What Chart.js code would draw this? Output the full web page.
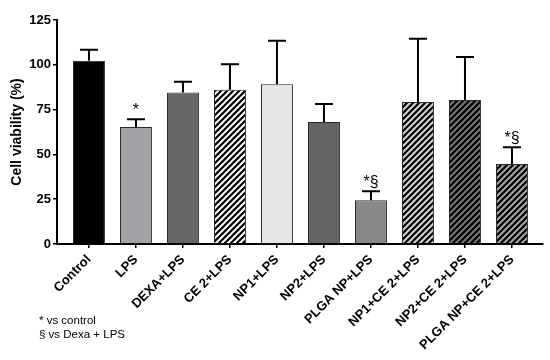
<!DOCTYPE html>
<html>
<head>
<meta charset="utf-8">
<script src="https://cdn.jsdelivr.net/npm/chart.js@4/dist/chart.umd.min.js"></script>
<style>
  html, body { margin: 0; padding: 0; background: #fff; }
  #wrap { width: 550px; height: 360px; }
</style>
</head>
<body>
<div id="wrap"><canvas id="viabilityChart" width="550" height="360"></canvas></div>
<script>
// data
const groups = ['Control', 'LPS', 'DEXA+LPS', 'CE 2+LPS', 'NP1+LPS', 'NP2+LPS',
  'PLGA NP+LPS', 'NP1+CE 2+LPS', 'NP2+CE 2+LPS', 'PLGA NP+CE 2+LPS'];
const viability = [102.3, 65.3, 84.6, 86.1, 89.2, 68.1, 24.4, 79.2, 80.4, 44.6];
const errUpper = [6.1, 4.3, 6.0, 14.2, 24.2, 10.0, 5.0, 35.4, 24.0, 9.4];
const marks = ['', '*', '', '', '', '', '*§', '', '', '*§'];
const yTicks = [0, 25, 50, 75, 100, 125];
const notes = ['* vs control', '§ vs Dexa + LPS'];

const FONT = '"Liberation Sans", Arial, sans-serif';

function stripes(bg) {
  const c = document.createElement('canvas');
  c.width = 6; c.height = 6;
  const g = c.getContext('2d');
  g.fillStyle = bg;
  g.fillRect(0, 0, 6, 6);
  g.strokeStyle = '#000';
  g.lineWidth = 2.2;
  g.beginPath();
  g.moveTo(-1, 7); g.lineTo(7, -1);
  g.moveTo(-4, 4); g.lineTo(4, -4);
  g.moveTo(2, 10); g.lineTo(10, 2);
  g.stroke();
  return g.createPattern(c, 'repeat');
}

const ctx = document.getElementById('viabilityChart').getContext('2d');

const fills = ['#000000', '#a2a2a6', '#666666', stripes('#ffffff'), '#e6e6e6',
  '#646464', '#888888', stripes('#d4d4d4'), stripes('#777777'), stripes('#a6a6a6')];

const errorBars = {
  id: 'errorBars',
  afterDatasetsDraw(chart) {
    const c = chart.ctx, xs = chart.scales.x, ys = chart.scales.y;
    c.save();
    c.strokeStyle = '#000';
    c.lineWidth = 2;
    viability.forEach((v, i) => {
      const x = xs.getPixelForValue(i);
      const y0 = ys.getPixelForValue(v);
      const y1 = ys.getPixelForValue(v + errUpper[i]);
      c.beginPath();
      c.moveTo(x, y0); c.lineTo(x, y1);
      c.moveTo(x - 9, y1); c.lineTo(x + 9, y1);
      c.stroke();
      if (marks[i]) {
        c.fillStyle = '#000';
        c.font = '16px ' + FONT;
        c.textAlign = 'center';
        c.textBaseline = 'bottom';
        c.fillText(marks[i], x, y1 - 1);
      }
    });
    c.font = '11.5px ' + FONT;
    c.textAlign = 'left';
    c.textBaseline = 'middle';
    c.fillStyle = '#000';
    c.fillText(notes[0], 39, 321);
    c.fillText(notes[1], 39, 335);
    c.restore();
  }
};

new Chart(ctx, {
  type: 'bar',
  data: {
    datasets: [{
      data: viability.map((v, i) => ({ x: i, y: v })),
      backgroundColor: fills,
      borderColor: '#2a2a2a',
      borderWidth: 1,
      barPercentage: 0.68,
      categoryPercentage: 1
    }]
  },
  options: {
    responsive: false,
    animation: false,
    layout: { padding: { top: 20, right: 7, left: 0, bottom: 0 } },
    plugins: { legend: { display: false }, tooltip: { enabled: false } },
    scales: {
      x: {
        type: 'linear',
        offset: false,
        min: -0.68,
        max: 9.66,
        afterBuildTicks: s => { s.ticks = groups.map((_, i) => ({ value: i })); },
        afterFit: s => { s.height = 116; },
        border: { color: '#000', width: 2 },
        grid: { drawOnChartArea: false, offset: false, color: '#000', tickLength: 4, lineWidth: 1.5 },
        ticks: {
          autoSkip: false,
          minRotation: 45,
          maxRotation: 45,
          padding: 4,
          color: '#000',
          font: { family: FONT, size: 13, weight: 'bold' },
          callback: v => groups[v]
        }
      },
      y: {
        min: 0,
        max: 125,
        afterBuildTicks: s => { s.ticks = yTicks.map(v => ({ value: v })); },
        afterFit: s => { s.width = 57; },
        border: { color: '#000', width: 2 },
        grid: { drawOnChartArea: false, color: '#000', tickLength: 4, lineWidth: 1.5 },
        title: {
          display: true,
          text: 'Cell viability (%)',
          color: '#000',
          padding: { top: 9, bottom: 0 },
          font: { family: FONT, size: 14, weight: 'bold' }
        },
        ticks: {
          padding: 2,
          color: '#000',
          font: { family: FONT, size: 13, weight: 'bold' }
        }
      }
    }
  },
  plugins: [errorBars]
});
</script>
</body>
</html>
